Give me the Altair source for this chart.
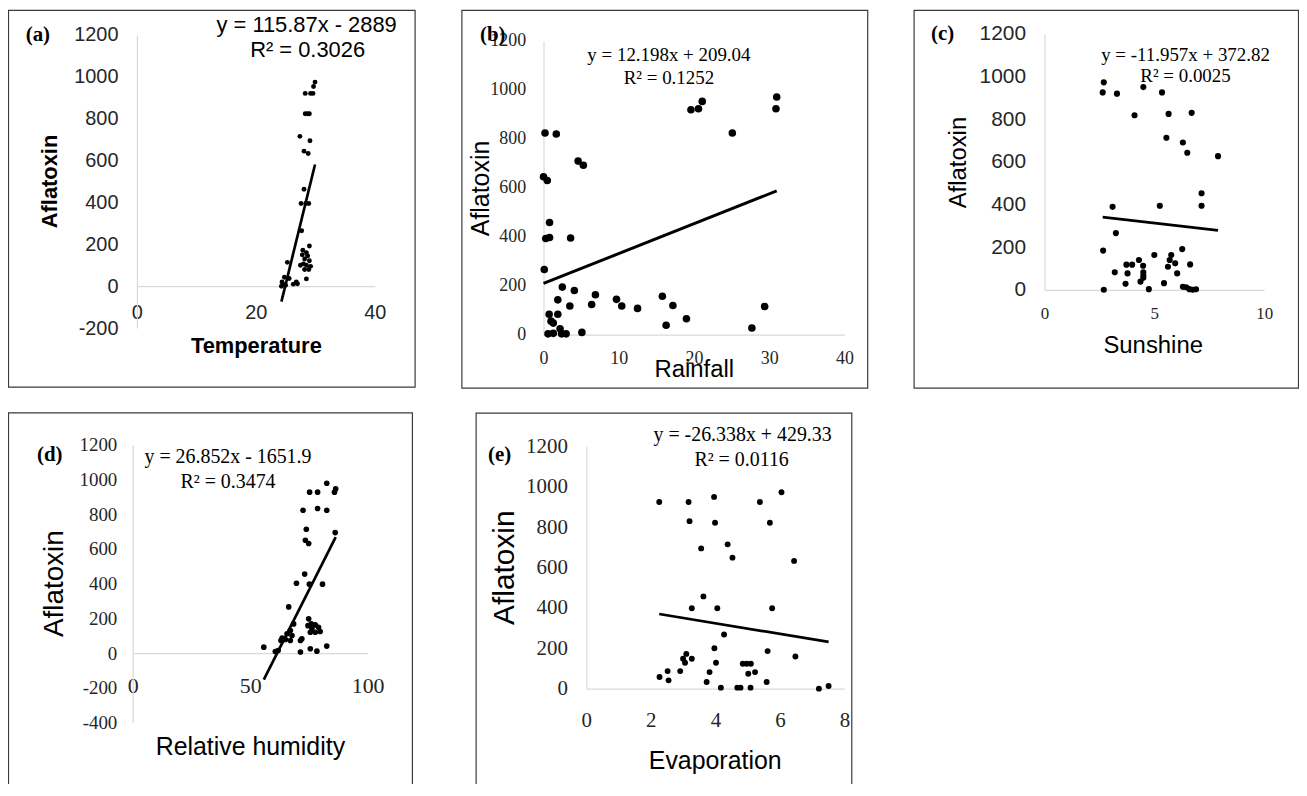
import altair as alt
import pandas as pd

# ---------------- data ----------------
temp_x = [29.95, 29.7, 28.3, 29.2, 29.6, 28.3, 29.0, 28.7, 27.4, 29.1, 28.1, 28.8, 28.1,
          27.6, 28.4, 28.9, 27.7, 29.0, 27.9, 28.5, 27.8, 28.7, 28.2, 29.0, 28.0, 28.5,
          27.5, 29.2, 28.2, 28.9, 28.5, 25.3, 24.8, 25.6, 24.4, 24.8, 26.3, 26.8, 24.3,
          25.0, 27.0]
temp_y = [975, 954, 921, 921, 921, 824, 824, 824, 716, 695, 645, 634, 463,
          395, 395, 395, 265, 192, 172, 160, 150, 145, 130, 122, 107, 100,
          100, 95, 80, 80, 35, 114, 43, 37, 20, 8, 10, 20, 0,
          5, 12]

rain_x = [31.0, 30.9, 21.1, 20.6, 19.6, 25.1, 0.2, 1.7, 4.6, 5.3, 0.0, 0.5, 0.8, 0.3,
          0.8, 3.6, 0.1, 2.5, 4.1, 6.9, 15.8, 9.7, 1.9, 3.5, 6.4, 10.4, 17.2, 29.4,
          12.5, 19.0, 16.3, 27.7, 0.75, 1.9, 1.0, 1.3, 0.6, 1.3, 2.2, 2.4, 3.0, 5.1]
rain_y = [971, 923, 953, 923, 919, 824, 824, 820, 709, 692, 645, 630, 458, 393,
          397, 395, 266, 194, 180, 163, 157, 144, 142, 117, 123, 117, 119, 115,
          107, 65, 38, 27, 83, 83, 55, 47, 3, 5, 24, 3, 3, 9]

sun_x = [2.7, 2.65, 3.3, 4.5, 5.35, 4.1, 5.65, 6.7, 5.55, 6.3, 6.5, 7.9, 7.15, 7.15,
         5.25, 3.1, 3.25, 2.67, 6.27, 5.0, 5.77, 5.7, 3.73, 3.99, 4.3, 4.49, 5.95,
         5.62, 6.63, 3.2, 3.78, 4.5, 4.5, 4.5, 6.04, 3.69, 4.37, 5.44, 2.7, 4.75,
         6.3, 6.45, 6.6, 6.75, 6.9]
sun_y = [973, 926, 920, 951, 926, 819, 825, 830, 713, 691, 643, 627, 453, 394,
         394, 389, 266, 184, 191, 163, 163, 140, 118, 118, 140, 113, 124,
         108, 119, 82, 77, 82, 67, 56, 77, 28, 38, 31, 0, 3,
         14, 12, 3, 0, 2]

rh_x = [82.6, 86.4, 85.9, 75.3, 78.7, 72.5, 78.7, 82.6, 73.9, 86.2, 73.5, 74.9, 73.2,
        69.7, 75.2, 80.8, 66.4, 74.9, 76.0, 77.7, 74.6, 76.3, 79.1, 79.8, 75.6, 77.7,
        68.5, 67.1, 65.7, 67.8, 63.6, 65.0, 67.1, 63.1, 72.0, 71.4, 55.8, 60.7, 61.9,
        71.4, 75.6, 78.4, 82.6]
rh_y = [978, 946, 927, 927, 927, 823, 833, 823, 713, 694, 650, 631, 455,
        402, 397, 397, 266, 197, 168, 162, 158, 140, 149, 124, 120, 120,
        168, 130, 111, 101, 86, 78, 72, 72, 82, 72, 34, 9, 15,
        6, 25, 11, 40]

evap_x = [2.26, 3.17, 3.96, 5.38, 6.05, 3.2, 3.99, 5.69, 4.38, 3.56, 4.53, 6.44, 3.63,
          3.27, 4.06, 5.76, 4.27, 3.97, 5.62, 6.48, 3.1, 3.0, 3.27, 3.06, 4.02, 4.85,
          4.97, 5.1, 5.02, 5.23, 3.82, 2.91, 2.52, 2.27, 2.55, 3.73, 5.59, 4.17, 4.68,
          4.78, 5.09, 7.21, 7.51]
evap_y = [925, 925, 950, 925, 973, 830, 822, 822, 715, 695, 649, 633, 457,
          398, 398, 398, 268, 200, 186, 159, 172, 148, 148, 128, 128, 123,
          123, 123, 74, 82, 82, 87, 87, 58, 41, 33, 33, 5, 5,
          5, 5, 0, 13]

slopes = [115.87, 12.198, -11.957, 26.852, -26.338]
intercepts = [-2889, 209.04, 372.82, -1651.9, 429.33]
eq_lines = ["y = 115.87x - 2889", "y = 12.198x + 209.04", "y = -11.957x + 372.82",
            "y = 26.852x - 1651.9", "y = -26.338x + 429.33"]
r2_lines = ["R² = 0.3026", "R² = 0.1252", "R² = 0.0025", "R² = 0.3474", "R² = 0.0116"]
panel_tags = ["(a)", "(b)", "(c)", "(d)", "(e)"]
x_titles = ["Temperature", "Rainfall", "Sunshine", "Relative humidity", "Evaporation"]
y_title = "Aflatoxin"
x_ticks = [[0, 20, 40], [0, 10, 20, 30, 40], [0, 5, 10], [0, 50, 100], [0, 2, 4, 6, 8]]
y_ticks = [list(range(-200, 1201, 200)), list(range(0, 1201, 200)), list(range(0, 1201, 200)),
           list(range(-400, 1201, 200)), list(range(0, 1201, 200))]
xs_all = [temp_x, rain_x, sun_x, rh_x, evap_x]
ys_all = [temp_y, rain_y, sun_y, rh_y, evap_y]

# ---------------- layout / styles ----------------
W, H = 1297, 776
SANS = "Liberation Sans"
SERIF = "Liberation Serif"
TICK_C = "#262626"
AX_C = "#d9d9d9"
PLAIN = "'' + datum.value"   # hyphen-minus like the original, not U+2212

panels = [
    dict(xdom=[0, 40], ydom=[-200, 1200], xr=[129.5, 368.5], yr=[319.8, 25.3], y0=277.7,
         xlf=SANS, xls=20, ylf=SANS, yls=20, xlp=26, ylp=19,
         tf=SANS, xts=22, yts=22, tw="bold",
         xt=(249, 59.3), yt=(-87.5, 172),
         size=24, lw=2.7,
         eqf=SANS, eqs=22, eq1=(300, 15), eq2=(301, 40), tag=(30, 25),
         frame=(0.5, 409, 0.5, 379)),
    dict(xdom=[0, 40], ydom=[0, 1200], xr=[538, 840.3], yr=[326.3, 31.3], y0=326.3,
         xlf=SERIF, xls=18, ylf=SERIF, yls=18, xlp=23.7, ylp=18,
         tf=SANS, xts=24, yts=25, tw="normal",
         xt=(689, 34.7), yt=(-63, 179),
         size=58, lw=3,
         eqf=SERIF, eqs=19, eq1=(664, 45), eq2=(664, 69), tag=(487, 25),
         frame=(456, 863.7, 0.5, 380)),
    dict(xdom=[0, 10], ydom=[0, 1200], xr=[1041.3, 1262], yr=[281.3, 24.3], y0=281.3,
         xlf=SERIF, xls=17, ylf=SANS, yls=21, xlp=23.7, ylp=19,
         tf=SANS, xts=24, yts=24, tw="normal",
         xt=(1150, 55.7), yt=(-86.3, 153),
         size=38, lw=2.7,
         eqf=SERIF, eqs=19, eq1=(1183, 45), eq2=(1183, 67), tag=(939, 24),
         frame=(910.3, 1296.5, 0.5, 380)),
    dict(xdom=[0, 100], ydom=[-400, 1200], xr=[125.3, 361.3], yr=[716, 437], y0=646.3,
         xlf=SERIF, xls=22, ylf=SERIF, yls=19, xlp=32.7, ylp=16,
         tf=SANS, xts=25, yts=28, tw="normal",
         xt=(243, 93.7), yt=(-78.3, 576),
         size=32, lw=2.7,
         eqf=SERIF, eqs=20, eq1=(221, 449), eq2=(221, 474), tag=(42, 447),
         frame=(0.5, 406.3, 405, 800)),
    dict(xdom=[0, 8], ydom=[0, 1200], xr=[581, 840.3], yr=[682, 438.7], y0=682,
         xlf=SERIF, xls=21, ylf=SERIF, yls=21, xlp=32, ylp=19,
         tf=SANS, xts=25, yts=30, tw="normal",
         xt=(710, 72), yt=(-82, 560),
         size=35, lw=2.7,
         eqf=SERIF, eqs=20, eq1=(738, 427), eq2=(737, 452), tag=(494, 447),
         frame=(470.3, 847.7, 405.3, 800)),
]

layers = []
one = pd.DataFrame({"k": [0]})

for i, p in enumerate(panels):
    xs, ys = xs_all[i], ys_all[i]
    df = pd.DataFrame({"x": xs, "y": ys})
    xmin, xmax = min(xs), max(xs)
    ldf = pd.DataFrame({"x": [xmin, xmax],
                        "y": [slopes[i] * xmin + intercepts[i], slopes[i] * xmax + intercepts[i]]})
    xscale = alt.Scale(domain=p["xdom"], range=p["xr"], nice=False, zero=False)
    yscale = alt.Scale(domain=p["ydom"], range=p["yr"], nice=False, zero=False)

    xaxis = alt.Axis(orient="bottom", offset=p["y0"] - H, values=x_ticks[i], ticks=False,
                     tickSize=0, grid=False, domainColor=AX_C, domainWidth=1.2,
                     labelFont=p["xlf"], labelFontSize=p["xls"], labelColor=TICK_C,
                     labelBaseline="middle", labelPadding=p["xlp"], labelFlush=False,
                     labelOverlap=False, labelExpr=PLAIN,
                     title=x_titles[i], titleFont=p["tf"], titleFontSize=p["xts"],
                     titleFontWeight=p["tw"], titleColor="#000000",
                     titleX=p["xt"][0], titleY=p["xt"][1], titleAlign="center",
                     titleBaseline="middle", titleAngle=0)
    yaxis = alt.Axis(orient="left", offset=-p["xr"][0], values=y_ticks[i], ticks=False,
                     tickSize=0, grid=False, domainColor=AX_C, domainWidth=1.2,
                     labelFont=p["ylf"], labelFontSize=p["yls"], labelColor=TICK_C,
                     labelAlign="right", labelBaseline="middle", labelPadding=p["ylp"],
                     labelFlush=False, labelOverlap=False, labelExpr=PLAIN,
                     title=y_title, titleFont=p["tf"], titleFontSize=p["yts"],
                     titleFontWeight=p["tw"], titleColor="#000000",
                     titleX=p["yt"][0], titleY=p["yt"][1], titleAlign="center",
                     titleBaseline="middle", titleAngle=270)

    pts = alt.Chart(df).mark_circle(size=p["size"], color="#000000", opacity=1).encode(
        x=alt.X("x:Q", scale=xscale, axis=xaxis),
        y=alt.Y("y:Q", scale=yscale, axis=yaxis),
    )
    ln = alt.Chart(ldf).mark_line(color="#000000", strokeWidth=p["lw"]).encode(
        x=alt.X("x:Q", scale=xscale, axis=None),
        y=alt.Y("y:Q", scale=yscale, axis=None),
    )
    fr = p["frame"]
    frame = alt.Chart(one).mark_rect(fillOpacity=0, stroke="#3a3a3a", strokeWidth=1.2).encode(
        x=alt.value(fr[0]), x2=alt.value(fr[1]), y=alt.value(fr[2]), y2=alt.value(fr[3]))
    eq1 = alt.Chart(pd.DataFrame({"t": [eq_lines[i]]})).mark_text(
        font=p["eqf"], fontSize=p["eqs"], color="#000000", align="center", baseline="middle"
    ).encode(text="t:N", x=alt.value(p["eq1"][0]), y=alt.value(p["eq1"][1]))
    eq2 = alt.Chart(pd.DataFrame({"t": [r2_lines[i]]})).mark_text(
        font=p["eqf"], fontSize=p["eqs"], color="#000000", align="center", baseline="middle"
    ).encode(text="t:N", x=alt.value(p["eq2"][0]), y=alt.value(p["eq2"][1]))
    tag = alt.Chart(pd.DataFrame({"t": [panel_tags[i]]})).mark_text(
        font=SERIF, fontSize=21, fontWeight="bold", color="#000000", align="center",
        baseline="middle"
    ).encode(text="t:N", x=alt.value(p["tag"][0]), y=alt.value(p["tag"][1]))
    layers += [frame, pts, ln, eq1, eq2, tag]

chart = alt.layer(*layers).resolve_scale(
    x="independent", y="independent"
).properties(
    width=W, height=H, padding=0,
    autosize=alt.AutoSizeParams(type="none"),
).configure_view(strokeWidth=0)

chart.save("out.html", embed_options={"renderer": "svg", "actions": False})
